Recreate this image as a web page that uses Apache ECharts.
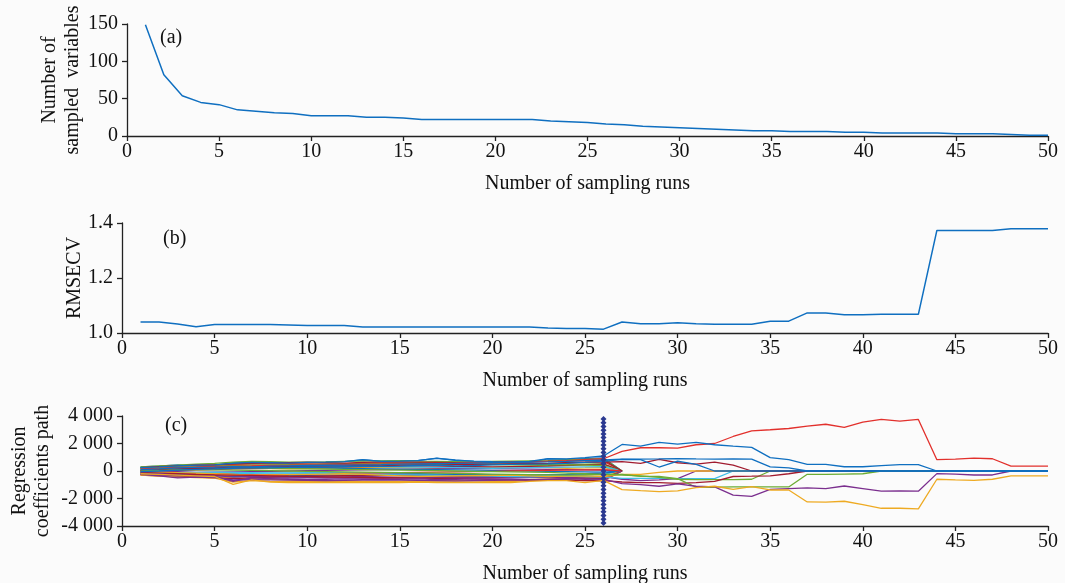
<!DOCTYPE html>
<html>
<head>
<meta charset="utf-8">
<script src="https://cdn.jsdelivr.net/npm/echarts@6/dist/echarts.min.js"></script>
<style>
html,body{margin:0;padding:0;background:#fbfbfb;}
#chart{width:1065px;height:583px;}
</style>
</head>
<body>
<div id="chart"></div>
<script>
// ---------- DATA ----------
const runs = [1,2,3,4,5,6,7,8,9,10,11,12,13,14,15,16,17,18,19,20,21,22,23,24,25,26,27,28,29,30,31,32,33,34,35,36,37,38,39,40,41,42,43,44,45,46,47,48,49,50];

const sampledVars = [149,82,54,45,42,35,33,31,30,27, 27,27,25,25,24,22,22,22,22,22, 22,22,20,19,18,16,15,13,12,11, 10,9,8,7,7,6,6,6,5,5, 4,4,4,4,3,3,3,2,1,1];

const rmsecv = [1.040,1.040,1.033,1.023,1.031,1.031,1.031,1.031,1.029,1.027,
                1.027,1.027,1.022,1.022,1.022,1.022,1.022,1.022,1.022,1.022,
                1.022,1.022,1.018,1.016,1.016,1.014,1.040,1.034,1.034,1.037,
                1.034,1.032,1.032,1.032,1.043,1.043,1.073,1.073,1.066,1.066,
                1.068,1.068,1.068,1.373,1.373,1.373,1.373,1.379,1.379,1.379];

const yTicksA = [0,50,100,150];
const yTicksB = [1.0,1.2,1.4];
const yTicksC = [-4000,-2000,0,2000,4000];
const bestRun = 26;
const markerYs = [-3780,-3510,-3240,-2970,-2700,-2430,-2160,-1890,-1620,-1350,-1080,-810,-540,-270,0,270,540,810,1080,1350,1620,1890,2160,2430,2700,2970,3240,3510,3780];

// noise coefficient paths (eliminated at run 27)
const n1  = [300,350,450,400,420,600,650,620,600,620,640,680,800,720,750,780,920,800,700,650,600,620,880,850,900,950,0];
const n2  = [200,280,350,420,450,480,500,520,540,520,500,520,560,580,560,540,560,580,600,620,580,560,540,600,650,700,0];
const n3  = [100,150,180,200,220,250,200,180,160,180,200,220,240,260,240,220,200,220,240,260,280,300,250,200,220,250,0];
const n4  = [-200,-300,-450,-350,-380,-700,-480,-500,-520,-500,-480,-500,-520,-540,-520,-500,-480,-460,-480,-500,-520,-480,-460,-440,-600,-550,0];
const n5  = [250,300,350,400,380,360,380,400,420,440,460,450,440,430,450,470,480,500,480,460,440,420,400,450,500,520,0];
const n6  = [-50,-80,-100,-120,-150,-200,-180,-160,-140,-120,-100,-120,-140,-160,-180,-200,-220,-240,-260,-280,-300,-320,-300,-280,-260,-240,0];
const n7  = [0,20,50,80,100,150,180,200,220,250,280,300,320,340,360,380,360,340,320,300,320,340,360,400,450,500,0];
const n8  = [-150,-200,-250,-300,-350,-400,-380,-360,-340,-320,-300,-280,-260,-240,-220,-200,-220,-240,-260,-280,-300,-280,-260,-240,-200,-150,0];
const n9  = [-100,-120,-150,-180,-200,-250,-300,-350,-400,-420,-440,-460,-480,-500,-480,-460,-440,-420,-400,-380,-400,-420,-440,-460,-480,-500,0];
const n10 = [-250,-300,-350,-400,-450,-500,-550,-600,-650,-700,-720,-740,-760,-780,-760,-740,-720,-700,-680,-660,-640,-620,-600,-580,-500,-400,0];
const n11 = [50,0,-50,-100,-80,-60,-40,-20,0,20,40,60,80,100,120,140,160,180,200,180,160,140,120,100,80,60,0];
const n12 = [150,200,250,300,350,400,420,440,460,480,500,520,540,560,580,600,580,560,540,520,500,480,460,440,420,400,0];
const n13 = [200,220,250,280,300,320,340,360,380,400,380,360,340,320,300,280,260,240,220,200,220,240,260,280,300,320,0];
const n14 = [-300,-350,-400,-450,-500,-550,-500,-450,-400,-380,-360,-340,-320,-300,-320,-340,-360,-380,-400,-420,-440,-460,-480,-500,-520,-540,0];
const n15 = [0,50,100,150,200,250,300,280,260,240,220,200,180,160,140,120,100,80,60,40,20,0,-20,-40,-60,-80,0];
const n16 = [-50,-100,-150,-200,-250,-300,-280,-260,-240,-220,-200,-180,-160,-140,-120,-100,-80,-60,-40,-20,0,20,40,60,80,100,0];
const n17 = [300,380,420,500,550,650,700,680,650,640,660,700,720,740,760,720,700,680,660,700,720,740,760,800,850,900,0];
const n18 = [-300,-380,-420,-480,-520,-800,-700,-750,-780,-760,-740,-760,-780,-800,-780,-760,-740,-720,-740,-760,-780,-700,-650,-620,-700,-720,0];
const n19 = [-250,-350,-500,-450,-480,-650,-620,-640,-660,-680,-700,-680,-660,-640,-660,-680,-700,-720,-700,-680,-660,-640,-620,-640,-660,-680,0];
const n20 = [250,320,380,420,440,520,560,580,600,620,600,580,620,640,660,640,620,600,620,640,660,680,700,720,760,800,0];

// surviving coefficient paths
const pRed    = [150,210,260,290,330,360,380,410,420,440,450,470,490,500,520,530,560,570,600,610,630,650,700,750,820,890,1430,1690,1690,1670,1910,2000,2510,2920,3000,3090,3260,3400,3170,3550,3750,3630,3750,820,870,940,890,360,360,360];
const pBlueA  = [250,300,380,420,450,560,620,600,580,620,640,680,820,700,720,760,930,780,720,680,650,700,900,880,970,1090,1930,1810,2080,1960,2080,1910,1810,1720,970,820,480,480,310,310,390,460,460,0,0,0,0,0,0,0];
const pBlueB  = [100,150,220,260,280,320,300,350,380,400,420,430,450,470,500,520,540,560,580,600,620,640,660,700,750,800,870,870,880,900,880,870,880,860,300,230,0,0,0,0,0,0,0,0,0,0,0,0,0,0];
const pBlueC  = [-50,0,60,120,150,200,250,230,260,300,280,320,350,330,360,400,420,380,400,450,480,500,520,560,620,700,850,820,290,720,480,0,0,0,0,0,0,0,0,0,0,0,0,0,0,0,0,0,0,0];
const pDRedA  = [50,100,150,200,230,300,280,320,340,330,360,380,400,380,420,450,430,470,480,500,520,540,560,600,620,650,680,560,850,600,500,640,430,0,0,0,0,0,0,0,0,0,0,0,0,0,0,0,0,0];
const pDRedB  = [-100,-150,-200,-250,-280,-300,-320,-350,-380,-400,-420,-440,-460,-480,-500,-520,-540,-560,-580,-600,-620,-640,-660,-680,-700,-700,-800,-850,-850,-900,-850,-750,-400,-380,-350,-200,0,0,0,0,0,0,0,0,0,0,0,0,0,0];
const pGreenA = [0,50,80,100,80,60,40,20,0,-20,-40,-60,-80,-100,-120,-140,-160,-180,-200,-220,-240,-260,-280,-300,-280,-250,-240,-390,-390,-560,-1180,-1180,-1160,-1160,-1160,-1160,-240,-240,-220,-200,0,0,0,0,0,0,0,0,0,0];
const pGreenB = [200,250,300,280,260,240,220,200,180,160,140,120,100,80,60,40,20,0,-20,-40,-60,-80,-100,-150,-200,-250,-300,-350,-460,-600,-620,-630,-620,-600,0,0,0,0,0,0,0,0,0,0,0,0,0,0,0,0];
const pYelA   = [-200,-250,-300,-350,-400,-970,-650,-800,-850,-850,-850,-850,-850,-850,-850,-800,-850,-850,-850,-850,-850,-750,-700,-700,-850,-680,-1350,-1430,-1500,-1450,-1210,-1110,-1330,-1140,-1380,-1380,-2250,-2270,-2200,-2440,-2710,-2710,-2760,-600,-650,-680,-600,-360,-360,-360];
const pYelB   = [-50,-80,-120,-150,-200,-250,-300,-280,-260,-240,-220,-200,-250,-300,-350,-400,-380,-360,-340,-320,-300,-350,-400,-380,-360,-400,-240,-240,-100,0,0,0,0,0,0,0,0,0,0,0,0,0,0,0,0,0,0,0,0,0];
const pPurA   = [-150,-200,-300,-350,-400,-750,-500,-550,-600,-620,-600,-580,-600,-620,-600,-580,-620,-600,-580,-600,-620,-640,-600,-560,-580,-600,-920,-990,-1110,-940,-1110,-1160,-1760,-1840,-1330,-1280,-1230,-1280,-1090,-1280,-1470,-1450,-1470,-190,-220,-290,-290,0,0,0];
const pPurB   = [-250,-300,-350,-300,-320,-450,-400,-420,-440,-460,-440,-420,-400,-420,-440,-460,-480,-500,-480,-460,-440,-420,-440,-460,-420,-400,-600,-700,-650,-550,0,0,0,0,0,0,0,0,0,0,0,0,0,0,0,0,0,0,0,0];
const pLBlue  = [-100,-150,-120,-100,-80,-100,-120,-140,-160,-180,-200,-220,-240,-260,-280,-300,-320,-340,-360,-380,-400,-420,-400,-380,-400,-420,-530,-530,-540,-550,-550,-550,0,0,0,0,0,0,0,0,0,0,0,0,0,0,0,0,0,0];

// ---------- STYLE ----------
const C = {blue:'#0f6fc0', red:'#e2302c', yel:'#eeaa22', pur:'#7b2f8e', green:'#6cac34', lblue:'#3fbde8', dred:'#a11b2f'};
const FONT = "'Liberation Serif','Times New Roman',serif";
const FS = 20;

const coefSeriesList = [
  [n1,C.blue],[n2,C.red],[n3,C.yel],[n4,C.pur],[n5,C.green],[n6,C.lblue],[n7,C.dred],
  [n8,C.blue],[n9,C.red],[n10,C.yel],[n11,C.pur],[n12,C.green],[n13,C.lblue],[n14,C.dred],
  [n15,C.blue],[n16,C.red],[n17,C.green],[n18,C.yel],[n19,C.pur],[n20,C.dred],
  [pPurB,C.pur],[pLBlue,C.lblue],[pYelB,C.yel],[pGreenB,C.green],[pDRedB,C.dred],[pDRedA,C.dred],
  [pGreenA,C.green],[pPurA,C.pur],[pYelA,C.yel],[pRed,C.red],[pBlueC,C.blue],[pBlueB,C.blue],[pBlueA,C.blue]
];

function pairs(vals){ return vals.map((v,i)=>[runs[i], v]); }

function fmtC(v){
  if (v === 0) return '0';
  const s = Math.abs(v).toString().replace(/\B(?=(\d{3})+(?!\d))/g,' ');
  return (v<0?'-':'') + s;
}

const axisLineStyle = {color:'#222', width:1.3};
const labelStyle = {fontFamily:FONT, fontSize:FS, color:'#111'};

function mkX(gi){
  return {
    type:'value', gridIndex:gi, min:0, max:50, interval:5,
    axisLine:{show:true, onZero:false, lineStyle:axisLineStyle},
    axisTick:{show:true, inside:false, length:5, lineStyle:axisLineStyle},
    axisLabel:Object.assign({margin:6, showMinLabel:true, showMaxLabel:true, hideOverlap:false}, labelStyle),
    splitLine:{show:false},
    name:'Number of sampling runs', nameLocation:'middle', nameGap:38, nameMoveOverlap:false,
    nameTextStyle:labelStyle
  };
}
function mkY(gi, min, max, interval, name, gap, fmt){
  return {
    type:'value', gridIndex:gi, min:min, max:max, interval:interval,
    axisLine:{show:true, onZero:false, lineStyle:axisLineStyle},
    axisTick:{show:true, inside:false, length:5, lineStyle:axisLineStyle},
    axisLabel:Object.assign({margin:9, formatter:fmt, showMinLabel:true, showMaxLabel:true, hideOverlap:false}, labelStyle),
    splitLine:{show:false},
    name:name, nameLocation:'middle', nameGap:gap, nameMoveOverlap:false,
    nameTextStyle:Object.assign({lineHeight:23, align:'center'}, labelStyle)
  };
}

const series = [];
series.push({type:'line', xAxisIndex:0, yAxisIndex:0, data:pairs(sampledVars), showSymbol:false, lineStyle:{color:C.blue, width:1.5}, itemStyle:{color:C.blue}, animation:false});
series.push({type:'line', xAxisIndex:1, yAxisIndex:1, data:pairs(rmsecv), showSymbol:false, lineStyle:{color:C.blue, width:1.5}, itemStyle:{color:C.blue}, animation:false});
coefSeriesList.forEach(([vals,col])=>{
  series.push({type:'line', xAxisIndex:2, yAxisIndex:2, data:pairs(vals), showSymbol:false, lineStyle:{color:col, width:1.3}, itemStyle:{color:col}, animation:false});
});
series.push({type:'line', xAxisIndex:2, yAxisIndex:2, data:markerYs.map(y=>[bestRun,y]), symbol:'diamond', symbolSize:6, showSymbol:true,
  lineStyle:{color:'#2b3990', width:1}, itemStyle:{color:'#2b3990'}, animation:false, z:5});

const option = {
  backgroundColor:'#fbfbfb',
  animation:false,
  grid:[
    {left:127, top:24, width:921, height:112, outerBoundsMode:'none'},
    {left:122, top:223, width:926, height:110, outerBoundsMode:'none'},
    {left:122, top:416, width:926, height:110, outerBoundsMode:'none'}
  ],
  xAxis:[mkX(0), mkX(1), mkX(2)],
  yAxis:[
    mkY(0, yTicksA[0], yTicksA[yTicksA.length-1], 50, 'Number of\nsampled  variables', 43, v=>String(v)),
    mkY(1, yTicksB[0], yTicksB[yTicksB.length-1], 0.2, 'RMSECV', 36, v=>v.toFixed(1)),
    mkY(2, yTicksC[0], yTicksC[yTicksC.length-1], 2000, 'Regression\ncoefficients path', 68, fmtC)
  ],
  graphic:[
    {type:'text', left:160, top:28, style:{text:'(a)', font:FS+'px '+FONT, fill:'#111'}},
    {type:'text', left:163, top:229, style:{text:'(b)', font:FS+'px '+FONT, fill:'#111'}},
    {type:'text', left:165, top:416, style:{text:'(c)', font:FS+'px '+FONT, fill:'#111'}}
  ],
  series:series
};

const chart = echarts.init(document.getElementById('chart'), null, {renderer:'canvas'});
chart.setOption(option);
</script>
</body>
</html>
